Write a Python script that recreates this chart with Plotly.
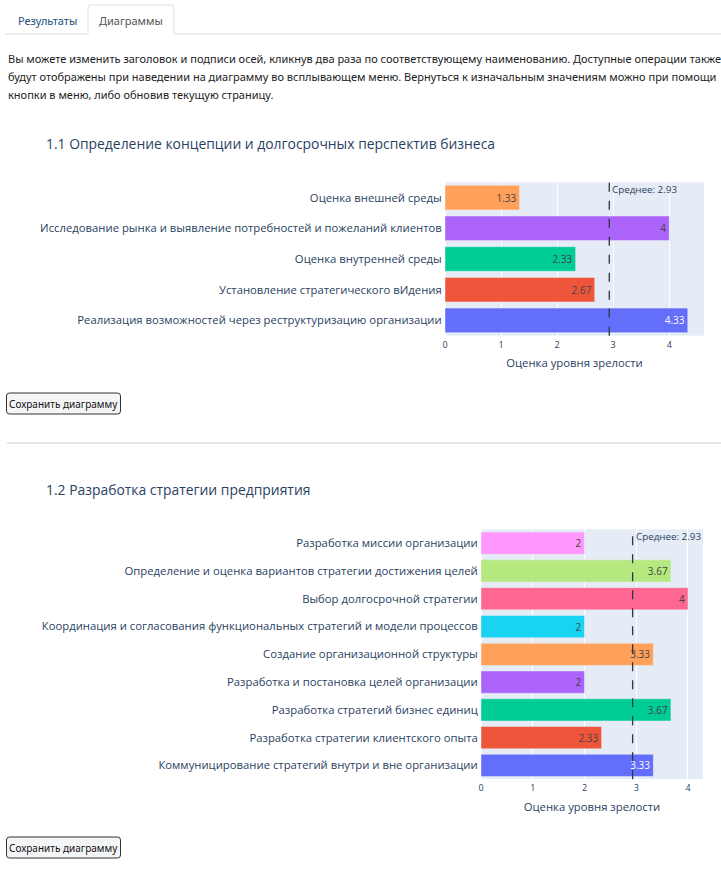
import plotly.graph_objects as go

W, H = 721, 871

# ---------------- data ----------------
# listed bottom-to-top (plotly's category order)
cat1 = [
    "Реализация возможностей через реструктуризацию организации",
    "Установление стратегического вИдения",
    "Оценка внутренней среды",
    "Исследование рынка и выявление потребностей и пожеланий клиентов",
    "Оценка внешней среды",
]
val1 = [4.33, 2.67, 2.33, 4, 1.33]

cat2 = [
    "Коммуницирование стратегий внутри и вне организации",
    "Разработка стратегии клиентского опыта",
    "Разработка стратегий бизнес единиц",
    "Разработка и постановка целей организации",
    "Создание организационной структуры",
    "Координация и согласования функциональных стратегий и модели процессов",
    "Выбор долгосрочной стратегии",
    "Определение и оценка вариантов стратегии достижения целей",
    "Разработка миссии организации",
]
val2 = [3.33, 2.33, 3.67, 2, 3.33, 2, 4, 3.67, 2]

title1 = "1.1 Определение концепции и долгосрочных перспектив бизнеса"
title2 = "1.2 Разработка стратегии предприятия"
xtitle = "Оценка уровня зрелости"
tabs = ["Результаты", "Диаграммы"]
para = [
    "Вы можете изменить заголовок и подписи осей, кликнув два раза по соответствующему наименованию. Доступные операции также",
    "будут отображены при наведении на диаграмму во всплывающем меню. Вернуться к изначальным значениям можно при помощи",
    "кнопки в меню, либо обновив текущую страницу.",
]
button_text = "Сохранить диаграмму"

palette = ["#636EFA", "#EF553B", "#00CC96", "#AB63FA", "#FFA15A",
           "#19D3F3", "#FF6692", "#B6E880", "#FF97FF", "#FECB52"]

# ---------------- helpers ----------------
def px_x(x):
    return x / W

def px_y(y):
    return 1 - y / H

CHART_FONT = "Open Sans"
PAGE_FONT = "Noto Sans"

fig = go.Figure()

def add_chart(cats, vals, xa, ya):
    for i, (c, v) in enumerate(zip(cats, vals)):
        fig.add_trace(go.Bar(
            x=[v], y=[c], orientation="h",
            marker=dict(color=palette[i % len(palette)],
                        line=dict(color="#E5ECF6", width=0.5)),
            text=[str(v)], textposition="inside", insidetextanchor="end",
            textfont=dict(size=10, family=CHART_FONT),
            xaxis=xa, yaxis=ya, showlegend=False, name=c,
        ))

add_chart(cat1, val1, "x", "y")
add_chart(cat2, val2, "x2", "y2")

mean1 = round(sum(val1) / len(val1), 2)
mean2 = round(sum(val2) / len(val2), 2)

axis_common = dict(gridcolor="white", zerolinecolor="white", zerolinewidth=2,
                   automargin=False, linecolor="white")
tickfont_x = dict(size=9, family=CHART_FONT, color="#2a3f5f")
tickfont_y = dict(size=11.3, family=CHART_FONT, color="#2a3f5f")
xtitle_font = dict(size=11.3, family=CHART_FONT, color="#2a3f5f")

fig.update_layout(
    width=W, height=H, autosize=False,
    margin=dict(l=0, r=0, t=0, b=0),
    paper_bgcolor="white", plot_bgcolor="#E5ECF6",
    barmode="relative", bargap=0.2,
    font=dict(family=CHART_FONT, color="#2a3f5f"),
    xaxis=dict(domain=[px_x(445), px_x(704)], range=[0, 4.62], anchor="y",
               tickfont=tickfont_x, dtick=1,
               title=dict(text=xtitle, font=xtitle_font, standoff=9),
               **axis_common),
    yaxis=dict(domain=[px_y(335.7), px_y(182.3)], anchor="x",
               tickfont=tickfont_y, showgrid=False, **axis_common),
    xaxis2=dict(domain=[px_x(481), px_x(703)], range=[0, 4.29], anchor="y2",
                tickfont=tickfont_x, dtick=1,
                title=dict(text=xtitle, font=xtitle_font, standoff=9),
                **axis_common),
    yaxis2=dict(domain=[px_y(779.3), px_y(529.3)], anchor="x2",
                tickfont=tickfont_y, showgrid=False, **axis_common),
)

shapes = []
annotations = []

# mean lines
for m, xr, yr in [(mean1, "x", "y domain"), (mean2, "x2", "y2 domain")]:
    shapes.append(dict(type="line", xref=xr, yref=yr, x0=m, x1=m, y0=0, y1=1,
                       line=dict(color="#2f3640", width=1.3, dash="dash")))
    annotations.append(dict(xref=xr, yref=yr, x=m, y=1, xanchor="left", yanchor="top",
                            text=f"Среднее: {m}", showarrow=False, xshift=1, yshift=1,
                            font=dict(size=9.8, family=CHART_FONT, color="#2a3f5f")))

# chart titles
for t, yy in [(title1, 143), (title2, 490)]:
    annotations.append(dict(xref="paper", yref="paper", x=px_x(44), y=px_y(yy),
                            xanchor="left", yanchor="middle", text=t, showarrow=False,
                            font=dict(size=13.9, family=CHART_FONT, color="#2a3f5f")))

# tabs
tab_line = "#dddddd"
shapes.append(dict(type="line", xref="paper", yref="paper", x0=px_x(5), x1=px_x(88),
                   y0=px_y(34), y1=px_y(34), line=dict(color=tab_line, width=1)))
shapes.append(dict(type="line", xref="paper", yref="paper", x0=px_x(174), x1=px_x(721),
                   y0=px_y(34), y1=px_y(34), line=dict(color=tab_line, width=1)))
shapes.append(dict(type="path", xref="paper", yref="paper",
                   path=(f"M {px_x(88)},{px_y(34)} L {px_x(88)},{px_y(8)} "
                         f"Q {px_x(88)},{px_y(5)} {px_x(91)},{px_y(5)} "
                         f"L {px_x(171)},{px_y(5)} Q {px_x(174)},{px_y(5)} {px_x(174)},{px_y(8)} "
                         f"L {px_x(174)},{px_y(34)}"),
                   line=dict(color=tab_line, width=1)))
annotations.append(dict(xref="paper", yref="paper", x=px_x(47), y=px_y(20),
                        text=tabs[0], showarrow=False, xanchor="center", yanchor="middle",
                        font=dict(size=11, family=PAGE_FONT, color="#23527c")))
annotations.append(dict(xref="paper", yref="paper", x=px_x(131), y=px_y(20),
                        text=tabs[1], showarrow=False, xanchor="center", yanchor="middle",
                        font=dict(size=11, family=PAGE_FONT, color="#555555")))

# paragraph
for line, yy in zip(para, [58, 77, 95]):
    annotations.append(dict(xref="paper", yref="paper", x=px_x(6), y=px_y(yy),
                            text=line, showarrow=False, xanchor="left", yanchor="middle",
                            font=dict(size=11, family=PAGE_FONT, color="#222222")))

# separator
shapes.append(dict(type="line", xref="paper", yref="paper", x0=px_x(7), x1=px_x(721),
                   y0=px_y(443), y1=px_y(443), line=dict(color="#cccccc", width=1)))

# buttons
def rounded_rect(x0, y0, x1, y1, r=3):
    return (f"M {px_x(x0+r)},{px_y(y0)} L {px_x(x1-r)},{px_y(y0)} "
            f"Q {px_x(x1)},{px_y(y0)} {px_x(x1)},{px_y(y0+r)} "
            f"L {px_x(x1)},{px_y(y1-r)} Q {px_x(x1)},{px_y(y1)} {px_x(x1-r)},{px_y(y1)} "
            f"L {px_x(x0+r)},{px_y(y1)} Q {px_x(x0)},{px_y(y1)} {px_x(x0)},{px_y(y1-r)} "
            f"L {px_x(x0)},{px_y(y0+r)} Q {px_x(x0)},{px_y(y0)} {px_x(x0+r)},{px_y(y0)} Z")

for y0, y1 in [(393, 414), (837, 858)]:
    shapes.append(dict(type="path", xref="paper", yref="paper", path=rounded_rect(6.5, y0, 120.5, y1),
                       line=dict(color="#333333", width=1), fillcolor="#f4f5f7", layer="above"))
    annotations.append(dict(xref="paper", yref="paper", x=px_x(63.5), y=px_y((y0 + y1) / 2),
                            text=button_text, showarrow=False, xanchor="center", yanchor="middle",
                            font=dict(size=10, family=PAGE_FONT, color="#111111")))

fig.update_layout(shapes=shapes, annotations=annotations)

fig.write_html("out.html",
               config={"displayModeBar": False},
               post_script="document.body.style.margin='0';document.body.style.overflow='hidden';")
